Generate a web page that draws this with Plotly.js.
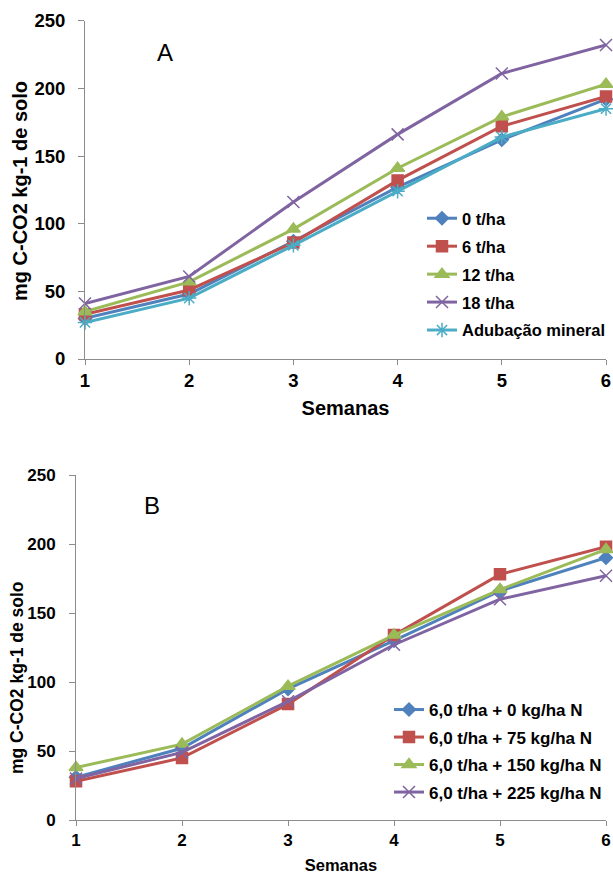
<!DOCTYPE html>
<html>
<head>
<meta charset="utf-8">
<script src="https://cdn.plot.ly/plotly-3.0.1.min.js"></script>
<style>html,body{margin:0;padding:0;background:#fff}#chart{width:613px;height:874px}</style>
</head>
<body>
<div id="chart"></div>
<script>
const weeks = [1, 2, 3, 4, 5, 6];

// Panel A
const namesA = ["0 t/ha", "6 t/ha", "12 t/ha", "18 t/ha", "Adubação mineral"];
const a0 = [30, 48, 87, 127, 162, 192];
const a6 = [33, 51, 86, 132, 172, 194];
const a12 = [35, 57, 96, 141, 179, 203];
const a18 = [41, 61, 116, 166, 211, 232];
const aMin = [27, 45, 84, 124, 164, 185];

// Panel B
const namesB = ["6,0 t/ha + 0 kg/ha N", "6,0 t/ha + 75 kg/ha N", "6,0 t/ha + 150 kg/ha N", "6,0 t/ha + 225 kg/ha N"];
const b0 = [31, 52, 95, 130, 166, 190];
const b75 = [28, 45, 84, 134, 178, 198];
const b150 = [38, 55, 97, 134, 167, 196];
const b225 = [30, 49, 86, 127, 160, 177];

const yTicks = [0, 50, 100, 150, 200, 250];
const yTitle = "mg C-CO2 kg-1 de solo";
const xTitle = "Semanas";

const colors = ["#4F81BD", "#C0504D", "#9BBB59", "#8064A2", "#4BACC6"];
const symbols = ["diamond", "square", "triangle-up", "x-thin-open", "asterisk-open"];
const msizes = [10, 11, 12, 12, 12];

const FONT = "Liberation Sans, Arial, sans-serif";
const traces = [];
[a0, a6, a12, a18, aMin].forEach((ys, i) => {
  traces.push({
    x: weeks, y: ys, name: namesA[i], type: "scatter", mode: "lines+markers",
    xaxis: "x", yaxis: "y", legend: "legend", legendgroup: "A" + i, cliponaxis: false,
    line: {color: colors[i], width: 3},
    marker: {symbol: symbols[i], size: msizes[i], color: colors[i], line: {color: colors[i], width: 1.5}}
  });
});
[b0, b75, b150, b225].forEach((ys, i) => {
  traces.push({
    x: weeks, y: ys, name: namesB[i], type: "scatter", mode: "lines+markers",
    xaxis: "x2", yaxis: "y2", legend: "legend2", legendgroup: "B" + i, cliponaxis: false,
    line: {color: colors[i], width: 3},
    marker: {symbol: symbols[i], size: msizes[i], color: colors[i], line: {color: colors[i], width: 1.5}}
  });
});

const H = 874, W = 613;
function xax(dom, anchor, fs, tfs, standoff) {
  return {
    domain: dom, anchor: anchor, range: [1, 6], tickvals: weeks, ticktext: weeks.map(String),
    showgrid: false, zeroline: false, showline: true, linecolor: "#8c8c8c", linewidth: 1,
    ticks: "outside", ticklen: 5, tickcolor: "#8c8c8c",
    tickfont: {family: FONT, size: fs, color: "#000", weight: "bold"},
    title: {text: xTitle, font: {family: FONT, size: tfs, color: "#000", weight: "bold"}, standoff: standoff}
  };
}
function yax(dom, anchor, fs, lstand) {
  return {
    domain: dom, anchor: anchor, range: [0, 250], tickvals: yTicks,
    showgrid: false, zeroline: false, showline: true, linecolor: "#8c8c8c", linewidth: 1,
    ticks: "outside", ticklen: 6, tickcolor: "#8c8c8c", ticklabelstandoff: lstand,
    tickfont: {family: FONT, size: fs, color: "#000", weight: "bold"}
  };
}
function label(text, x, y, size, weight, angle) {
  return {text: text, xref: "paper", yref: "paper", x: x / W, y: 1 - y / H,
    xanchor: "center", yanchor: "middle", showarrow: false, textangle: angle,
    font: {family: FONT, size: size, color: "#000", weight: weight}};
}

const layout = {
  width: W, height: H, margin: {l: 0, r: 0, t: 0, b: 0},
  paper_bgcolor: "#fff", plot_bgcolor: "#fff", showlegend: true,
  xaxis: xax([85 / W, 606 / W], "y", 18.5, 20, 10),
  yaxis: yax([1 - 359 / H, 1 - 20.7 / H], "x", 18.5, 9),
  xaxis2: xax([76 / W, 606 / W], "y2", 17, 16.5, 11),
  yaxis2: yax([1 - 820 / H, 1 - 475 / H], "x2", 17, 10),
  legend: {
    x: 422 / W, y: 1 - 201 / H, xanchor: "left", yanchor: "top",
    bgcolor: "rgba(0,0,0,0)", tracegroupgap: 3.5, itemwidth: 30,
    font: {family: FONT, size: 16.5, color: "#000", weight: "bold"}
  },
  legend2: {
    x: 389 / W, y: 1 - 692 / H, xanchor: "left", yanchor: "top",
    bgcolor: "rgba(0,0,0,0)", tracegroupgap: 2.4, itemwidth: 30,
    font: {family: FONT, size: 17, color: "#000", weight: "bold"}
  },
  annotations: [
    label("A", 165, 52.5, 24, "normal", 0),
    label("B", 152, 505, 24, "normal", 0),
    label(yTitle, 20, 191, 20, "bold", -90),
    label(yTitle, 17, 678, 17.5, "bold", -90)
  ]
};

Plotly.newPlot("chart", traces, layout, {displayModeBar: false, responsive: false});
</script>
</body>
</html>
